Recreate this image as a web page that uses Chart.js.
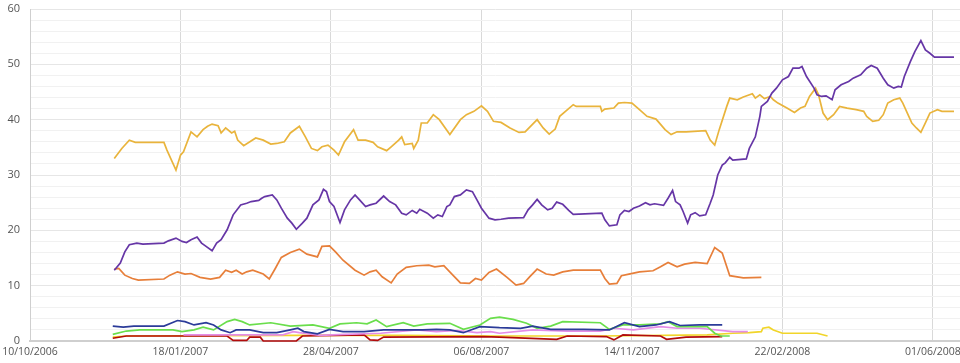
<!DOCTYPE html>
<html>
<head>
<meta charset="utf-8">
<script src="https://cdn.jsdelivr.net/npm/chart.js@4/dist/chart.umd.min.js"></script>
<style>
  html, body { margin: 0; padding: 0; background: #fff; }
  #wrap { width: 960px; height: 363px; }
</style>
</head>
<body>
<div id="wrap"><canvas id="myChart"></canvas></div>
<script>
// x = days since 10/10/2006
const tickDays = [0, 100, 200, 300, 400, 500, 600];
const tickLabels = ["10/10/2006", "18/01/2007", "28/04/2007", "06/08/2007", "14/11/2007", "22/02/2008", "01/06/2008"];

const gold = [[56,33.0],[61,34.8],[66,36.3],[70,35.9],[89,35.9],[91,34.5],[97,30.9],[100,33.6],[102,34.2],[107,37.8],[111,36.9],[115,38.2],[118,38.8],[121,39.2],[125,38.9],[127,37.6],[130,38.5],[134,37.6],[136,37.9],[138,36.3],[142,35.3],[150,36.7],[155,36.3],[160,35.6],[164,35.7],[169,36.0],[173,37.6],[179,38.8],[183,36.9],[187,34.8],[191,34.4],[194,35.1],[198,35.4],[202,34.5],[205,33.6],[209,36.0],[215,38.2],[218,36.3],[223,36.3],[228,35.9],[231,35.1],[237,34.4],[240,35.1],[245,36.3],[247,36.9],[249,35.5],[254,35.7],[255,34.8],[258,36.3],[260,39.4],[264,39.4],[268,40.9],[272,40.0],[279,37.3],[286,40.0],[290,40.9],[295,41.5],[300,42.5],[304,41.5],[308,39.7],[313,39.5],[319,38.5],[325,37.7],[329,37.8],[337,40.0],[341,38.5],[345,37.4],[349,38.3],[352,40.6],[361,42.7],[363,42.4],[379,42.4],[380,41.5],[382,41.9],[388,42.1],[391,43.0],[395,43.1],[400,43.0],[405,41.8],[410,40.6],[416,40.1],[422,38.2],[426,37.3],[430,37.8],[436,37.8],[449,38.0],[452,36.3],[455,35.4],[458,38.2],[463,42.4],[465,43.9],[470,43.6],[474,44.1],[480,44.7],[482,43.9],[485,44.5],[488,43.8],[492,44.2],[494,43.6],[497,43.0],[503,42.1],[508,41.3],[512,42.1],[515,42.4],[518,44.2],[522,45.7],[524,44.5],[527,41.2],[530,40.0],[534,40.9],[538,42.4],[543,42.1],[549,41.8],[554,41.5],[556,40.6],[560,39.7],[564,39.9],[567,40.9],[570,43.0],[574,43.6],[578,43.9],[580,43.0],[583,41.2],[586,39.4],[589,38.5],[592,37.7],[595,39.4],[598,41.2],[603,41.8],[606,41.5],[614,41.5]];

const purple = [[56,12.8],[60,14.1],[63,16.1],[66,17.4],[71,17.7],[75,17.5],[89,17.7],[92,18.1],[97,18.6],[101,18.0],[104,17.8],[107,18.3],[111,18.8],[114,17.7],[117,17.1],[121,16.3],[124,17.7],[127,18.3],[131,20.1],[135,22.8],[140,24.6],[144,24.9],[147,25.2],[152,25.4],[154,25.8],[156,26.1],[161,26.4],[164,25.5],[167,24.0],[171,22.2],[174,21.3],[177,20.2],[181,21.3],[184,22.2],[188,24.6],[192,25.5],[195,27.4],[197,27.0],[199,25.2],[202,24.3],[206,21.4],[209,23.7],[213,25.5],[216,26.4],[219,25.5],[223,24.3],[226,24.6],[230,24.9],[235,26.2],[239,25.2],[243,24.6],[247,23.1],[250,22.8],[254,23.6],[257,23.1],[259,23.8],[264,23.1],[268,22.2],[271,22.8],[274,22.5],[277,24.3],[279,24.6],[282,26.1],[286,26.4],[290,27.3],[294,27.0],[297,25.5],[300,24.0],[305,22.2],[309,21.9],[313,22.0],[318,22.2],[328,22.3],[331,23.7],[334,24.6],[337,25.6],[340,24.6],[344,23.7],[347,24.0],[350,25.1],[354,24.7],[358,23.6],[361,22.9],[380,23.1],[382,21.9],[385,20.8],[390,21.0],[392,22.8],[395,23.6],[398,23.4],[401,24.0],[405,24.4],[409,25.0],[412,24.6],[415,24.8],[421,24.5],[424,25.8],[427,27.2],[429,25.2],[432,24.6],[434,23.4],[437,21.3],[439,22.8],[442,23.2],[445,22.6],[449,22.8],[452,24.9],[454,26.4],[457,30.0],[460,31.8],[462,32.2],[465,33.2],[467,32.7],[476,32.9],[478,34.8],[482,36.9],[485,40.6],[486,42.4],[490,43.3],[493,44.8],[496,45.7],[500,47.2],[504,47.8],[507,49.3],[511,49.3],[513,49.6],[516,47.8],[521,45.7],[523,44.5],[526,44.2],[529,44.3],[533,43.6],[535,45.4],[539,46.3],[544,46.9],[547,47.5],[552,48.1],[556,49.3],[559,49.8],[563,49.3],[567,47.5],[570,46.3],[574,45.7],[577,46.0],[579,45.9],[581,47.8],[585,50.5],[588,52.3],[592,54.3],[595,52.6],[598,52.0],[601,51.3],[614,51.3]];

const orange = [[56,13.0],[59,13.1],[63,11.9],[68,11.3],[72,11.0],[89,11.2],[93,11.9],[98,12.5],[103,12.1],[107,12.2],[113,11.5],[120,11.2],[126,11.5],[130,12.8],[134,12.4],[137,12.8],[141,12.1],[144,12.5],[148,12.8],[155,12.1],[159,11.2],[163,13.1],[167,15.1],[173,16.0],[179,16.6],[184,15.7],[191,15.2],[194,17.1],[199,17.2],[203,16.1],[208,14.6],[216,12.8],[222,11.9],[226,12.5],[230,12.8],[234,11.6],[240,10.5],[244,12.1],[250,13.3],[257,13.6],[265,13.7],[269,13.4],[275,13.6],[281,11.9],[286,10.5],[292,10.4],[296,11.3],[300,11.0],[305,12.4],[310,13.0],[317,11.5],[323,10.1],[328,10.4],[332,11.6],[337,13.0],[343,12.1],[348,11.9],[354,12.5],[361,12.8],[379,12.8],[382,11.3],[385,10.3],[390,10.4],[393,11.8],[398,12.1],[405,12.5],[414,12.7],[419,13.4],[424,14.2],[430,13.4],[435,13.9],[442,14.2],[450,14.0],[455,16.9],[460,15.9],[465,11.8],[474,11.4],[486,11.5]];

const green = [[55,1.2],[64,1.8],[73,2.0],[95,2.0],[101,1.7],[109,2.0],[115,2.5],[122,2.0],[131,3.5],[136,3.9],[141,3.5],[146,2.9],[160,3.3],[173,2.7],[188,2.9],[199,2.3],[206,3.1],[217,3.3],[224,3.1],[230,3.8],[237,2.6],[248,3.3],[255,2.7],[264,3.1],[279,3.2],[288,2.1],[299,2.9],[306,4.1],[312,4.3],[321,3.9],[330,3.2],[337,2.3],[346,2.7],[354,3.5],[379,3.3],[385,2.1],[394,2.9],[405,2.9],[419,3.1],[424,3.5],[430,2.6],[450,2.6],[455,1.4],[459,0.9],[465,0.9]];

const blue = [[55,2.7],[62,2.5],[69,2.7],[89,2.7],[98,3.7],[103,3.5],[109,2.9],[117,3.3],[122,2.9],[127,2.0],[133,1.5],[137,2.0],[146,2.0],[155,1.5],[164,1.5],[173,2.0],[178,2.3],[182,1.7],[191,1.3],[199,2.1],[208,1.7],[222,1.7],[235,2.0],[261,2.0],[270,2.1],[279,2.0],[288,1.5],[299,2.6],[312,2.4],[326,2.3],[334,2.7],[346,2.1],[368,2.1],[385,2.0],[395,3.3],[405,2.6],[416,2.9],[425,3.5],[432,2.8],[445,2.9],[460,2.9]];

const pink = [[102,1.1],[118,1.1],[168,1.1],[175,1.7],[179,1.5],[193,1.0],[209,1.2],[233,1.4],[257,2.0],[270,1.7],[284,1.9],[297,1.5],[306,1.7],[312,1.4],[334,2.0],[357,1.8],[379,1.8],[388,2.3],[401,2.0],[419,2.6],[430,2.3],[445,2.3],[467,1.7],[477,1.7]];

const red = [[55,0.5],[64,0.9],[131,0.9],[135,0.1],[144,0.1],[146,0.7],[153,0.7],[155,0.0],[177,0.0],[181,0.9],[222,1.1],[226,0.2],[231,0.1],[235,0.7],[301,0.8],[312,0.7],[350,0.3],[357,0.9],[383,0.8],[388,0.2],[394,1.1],[419,0.9],[423,0.3],[436,0.7],[460,0.8]];

const yellow = [[55,0.7],[64,0.9],[179,1.0],[246,1.0],[312,0.9],[379,0.9],[450,1.1],[467,1.4],[478,1.5],[486,1.7],[487,2.3],[491,2.5],[494,2.0],[500,1.4],[523,1.4],[530,0.9]];

function pts(arr) { return arr.map(p => ({ x: p[0], y: p[1] })); }
function ds(data, color, w) {
  return { data: pts(data), borderColor: color, borderWidth: w, pointRadius: 0, tension: 0, fill: false, clip: 4 };
}

let ctx = document.getElementById("myChart");
let myChart = new Chart(ctx, {
  type: "line",
  data: {
    datasets: [
      ds(purple, "#6636a6", 1.7),
      ds(gold, "#e9b43c", 1.7),
      ds(orange, "#e77f3a", 1.7),
      ds(blue, "#2b3b99", 1.7),
      ds(green, "#6ade4c", 1.7),
      ds(pink, "#e48de6", 1.7),
      ds(red, "#b20c0c", 1.7),
      ds(yellow, "#f1d52a", 1.7),
    ],
  },
  options: {
    responsive: true,
    maintainAspectRatio: false,
    animation: false,
    layout: { padding: { top: 9, right: 0, left: 0, bottom: 0 } },
    plugins: { legend: { display: false }, tooltip: { enabled: false } },
    scales: {
      x: {
        type: "linear",
        min: 0,
        max: 618,
        grid: { color: "#d9d9d9", drawTicks: false },
        border: { color: "#cfcfcf", width: 2 },
        ticks: {
          stepSize: 100,
          includeBounds: false,
          autoSkip: false,
          maxRotation: 0,
          padding: 5,
          color: "#555",
          font: { family: "'Open Sans'", size: 10.5 },
          callback: (v) => tickLabels[tickDays.indexOf(v)] || "",
        },
        afterFit: (s) => { s.height = 22; s.paddingLeft = 0; s.paddingRight = 0; },
      },
      y: {
        min: 0,
        max: 60,
        grid: {
          color: (c) => (c.tick && c.tick.value % 10 === 0 ? "#e6e6e6" : "#f1f1f1"),
          drawTicks: false,
        },
        border: { color: "#cfcfcf", width: 1 },
        ticks: {
          stepSize: 2,
          autoSkip: false,
          padding: 10,
          color: "#555",
          font: { family: "'Open Sans'", size: 11 },
          callback: (v) => (v % 10 === 0 ? v : ""),
        },
        afterFit: (s) => { s.width = 30; s.paddingTop = 0; },
      },
    },
  },
});
</script>
</body>
</html>
